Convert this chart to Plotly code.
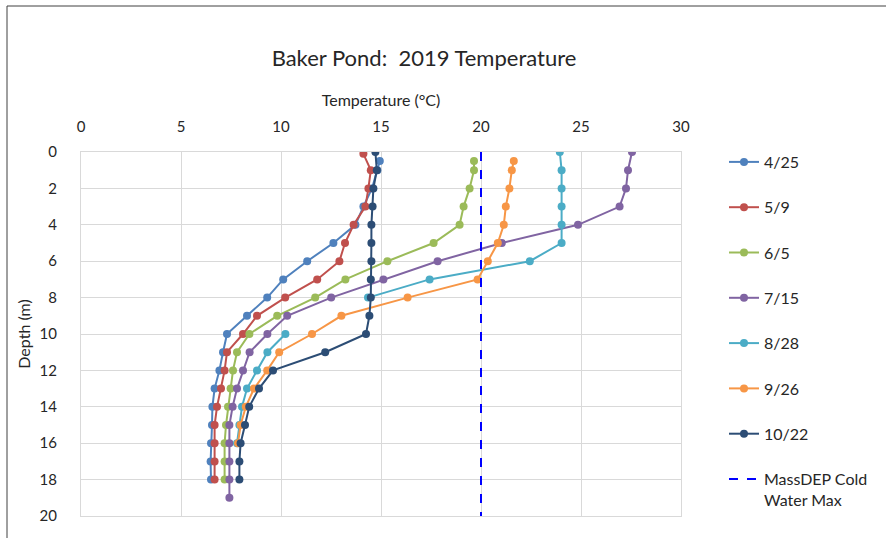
import plotly.graph_objects as go

# Temperature profiles (°C) by depth (m) for each sampling date
depth_0425 = [0.5, 1, 2, 3, 4, 5, 6, 7, 8, 9, 10, 11, 12, 13, 14, 15, 16, 17, 18]
temp_0425 = [14.94, 14.82, 14.55, 14.12, 13.72, 12.62, 11.31, 10.11, 9.31, 8.30,
             7.30, 7.10, 6.92, 6.68, 6.57, 6.55, 6.50, 6.48, 6.50]

depth_0509 = [0.1, 1, 2, 3, 4, 5, 6, 7, 8, 9, 10, 11, 12, 13, 14, 15, 16, 17, 18]
temp_0509 = [14.12, 14.49, 14.37, 14.22, 13.63, 13.20, 12.92, 11.81, 10.21, 8.80,
             8.10, 7.30, 7.18, 7.00, 6.80, 6.68, 6.68, 6.68, 6.68]

depth_0605 = [0.5, 1, 2, 3, 4, 5, 6, 7, 8, 9, 10, 11, 12, 13, 14, 15, 16, 17, 18]
temp_0605 = [19.65, 19.65, 19.43, 19.13, 18.93, 17.63, 15.32, 13.22, 11.71, 9.81,
             8.42, 7.80, 7.60, 7.48, 7.35, 7.25, 7.18, 7.18, 7.18]

depth_0715 = [0, 1, 2, 3, 4, 5, 6, 7, 8, 9, 10, 11, 12, 13, 14, 15, 16, 17, 18, 19]
temp_0715 = [27.55, 27.35, 27.25, 26.93, 24.85, 21.04, 17.83, 15.12, 12.51, 10.31,
             9.32, 8.43, 8.10, 7.80, 7.58, 7.42, 7.42, 7.42, 7.42, 7.42]

depth_0828 = [0, 1, 2, 3, 4, 5, 6, 7, 8, 9, 10, 11, 12, 13, 14, 15, 16]
temp_0828 = [23.94, 24.03, 24.03, 24.03, 24.03, 24.03, 22.44, 17.43, 14.35, None,
             10.22, 9.32, 8.80, 8.30, 8.05, 7.92, 7.80]

depth_0926 = [0.5, 1, 2, 3, 4, 5, 6, 7, 8, 9, 10, 11, 12, 13, 14, 15, 16]
temp_0926 = [21.64, 21.54, 21.42, 21.24, 21.14, 20.84, 20.34, 19.83, 16.33, 13.02,
             11.55, 9.91, 9.31, 8.65, 8.24, 7.98, 7.85]

depth_1022 = [0, 1, 2, 3, 4, 5, 6, 7, 8, 9, 10, 11, 12, 13, 14, 15, 16, 17, 18]
temp_1022 = [14.72, 14.79, 14.62, 14.58, 14.52, 14.52, 14.52, 14.49, 14.49, 14.42,
             14.25, 12.21, 9.60, 8.90, 8.41, 8.20, 7.98, 7.92, 7.92]

# MassDEP cold-water maximum reference line
massdep_temp = [20, 20]
massdep_depth = [0, 20]

dates = ["4/25", "5/9", "6/5", "7/15", "8/28", "9/26", "10/22"]
profiles = [
    (depth_0425, temp_0425, "#4f81bd"),
    (depth_0509, temp_0509, "#c0504d"),
    (depth_0605, temp_0605, "#9bbb59"),
    (depth_0715, temp_0715, "#8064a2"),
    (depth_0828, temp_0828, "#4bacc6"),
    (depth_0926, temp_0926, "#f79646"),
    (depth_1022, temp_1022, "#2c4d75"),
]

FONT = "Lato, 'Open Sans', sans-serif"
TEXT = "#262626"
GRID = "#d9d9d9"

fig = go.Figure()

for i, (name, (dep, tmp, col)) in enumerate(zip(dates, profiles)):
    fig.add_trace(go.Scatter(
        x=tmp, y=dep, name=name, mode="lines+markers",
        line=dict(color=col, width=2),
        marker=dict(color=col, size=8),
        connectgaps=False,
        legendgroup=f"g{i}",
    ))

fig.add_trace(go.Scatter(
    x=massdep_temp, y=massdep_depth, name="MassDEP Cold<br>Water Max",
    mode="lines", line=dict(color="#0000ff", width=2, dash="dash"),
    legendgroup="gm",
))

W, H = 886, 538
L, R, T, B = 81, 205, 152, 22
pw, ph = W - L - R, H - T - B

def px_x(p):
    return (p - L) / pw

def px_y(p):
    return (H - B - p) / ph

fig.update_layout(
    width=W, height=H,
    margin=dict(l=L, r=R, t=T, b=B),
    paper_bgcolor="white", plot_bgcolor="white",
    font=dict(family=FONT, size=15, color=TEXT),
    title=dict(
        text="Baker Pond:  2019 Temperature",
        x=424 / W, xanchor="center",
        y=1 - 58 / H, yanchor="middle",
        font=dict(family=FONT, size=22, color=TEXT),
    ),
    xaxis=dict(
        side="top", range=[0, 30], dtick=5, tick0=0,
        showgrid=True, gridcolor=GRID, gridwidth=1,
        showline=True, linecolor=GRID, mirror=True,
        zeroline=False, ticks="", ticklabelstandoff=13,
        tickfont=dict(size=15, color=TEXT),
        title=dict(text="Temperature (°C)", standoff=6,
                   font=dict(size=16, color=TEXT)),
        automargin=False,
    ),
    yaxis=dict(
        range=[20, 0], dtick=2, tick0=0,
        showgrid=True, gridcolor=GRID, gridwidth=1,
        showline=True, linecolor=GRID, mirror=True,
        zeroline=False, ticks="", ticklabelstandoff=20,
        tickfont=dict(size=15, color=TEXT),
        title=dict(text="Depth (m)", standoff=4,
                   font=dict(size=16, color=TEXT)),
        automargin=False,
    ),
    legend=dict(
        x=px_x(724), xanchor="left",
        y=px_y(145), yanchor="top",
        font=dict(size=16, color=TEXT),
        tracegroupgap=21.5, valign="top",
        maxheight=520,
        bgcolor="rgba(0,0,0,0)",
    ),
    shapes=[
        dict(type="rect", xref="paper", yref="paper",
             x0=px_x(7), x1=px_x(W + 20), y0=px_y(H + 20), y1=px_y(6),
             line=dict(color="#404040", width=1), fillcolor="rgba(0,0,0,0)",
             layer="below"),
    ],
)

fig.write_html("out.html")
